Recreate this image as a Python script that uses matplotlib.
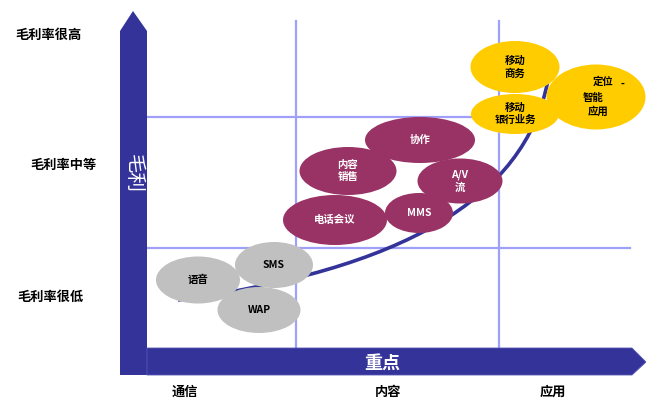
import matplotlib
matplotlib.use("Agg")
from matplotlib import pyplot as plt
from matplotlib.patches import Ellipse, Polygon, PathPatch
from matplotlib.path import Path

plt.rcParams['font.family'] = ['Noto Sans CJK SC', 'DejaVu Sans']

# margin levels on the left, focus areas along the bottom
level_labels = ['毛利率很高', '毛利率中等', '毛利率很低']
level_x = [48, 63, 50]
level_y = [35, 165, 297]

focus_labels = ['通信', '内容', '应用']
focus_x = [185, 388, 553]

# service bubbles: label, centre, size
gray_labels = ['语音', 'SMS', 'WAP']
gray_cx = [198, 274, 259]
gray_cy = [280, 265, 310]
gray_w = [84, 78, 83]
gray_h = [47, 46, 46]

red_labels = ['内容\n销售', '电话会议', 'MMS', '协作', 'A/V\n流']
red_cx = [348, 335, 419, 420, 460]
red_cy = [171, 220, 213, 140, 181]
red_w = [97, 104, 68, 110, 85]
red_h = [48, 50, 40, 46, 45]

yellow_labels = ['移动\n商务', '移动\n银行业务', '']
yellow_cx = [515, 515, 596]
yellow_cy = [67, 114, 97]
yellow_w = [89, 88, 99]
yellow_h = [52, 40, 65]

# the last yellow bubble has its lines set apart
loc_lines = ['定位', '智能', '应用', '-']
loc_x = [603, 593, 598, 622]
loc_y = [82, 98, 112, 84]

# trend curve (cubic bezier control points)
curve_x = [178, 400, 525, 548]
curve_y = [300, 270, 200, 80]

grid_v = [296, 499]
grid_h = [117, 248]

blue = '#333399'

fig = plt.figure(figsize=(6.46, 3.98), dpi=100)
ax = fig.add_axes([0, 0, 1, 1])
ax.set_xlim(0, 646)
ax.set_ylim(398, 0)
ax.axis('off')

for x in grid_v:
    ax.plot([x, x], [21, 348], color='#a0a0f8', lw=1.6, zorder=1)
for y in grid_h:
    ax.plot([147, 630], [y, y], color='#a0a0f8', lw=1.6, zorder=1)

# axes arrows
ax.add_patch(Polygon([(120, 375), (120, 31), (133, 11), (147, 31), (147, 375)],
                     closed=True, fc=blue, ec='none', zorder=2))
ax.add_patch(Polygon([(147, 348), (632, 348), (646, 362), (632, 375), (147, 375)],
                     closed=True, fc=blue, ec='#5858b8', lw=0.6, zorder=2))
ax.text(133, 174, '毛利', color='white', fontsize=14, rotation=-90,
        ha='center', va='center', zorder=3)
ax.text(382, 363, '重点', color='white', fontsize=13, fontweight='bold',
        ha='center', va='center', zorder=3)

verts = list(zip(curve_x, curve_y))
path = Path(verts, [Path.MOVETO, Path.CURVE4, Path.CURVE4, Path.CURVE4])
ax.add_patch(PathPatch(path, fc='none', ec=blue, lw=2.6, zorder=3))


def bubbles(labels, cx, cy, w, h, fc, tc):
    for lab, x, y, ww, hh in zip(labels, cx, cy, w, h):
        ax.add_patch(Ellipse((x, y), ww, hh, fc=fc, ec='none', zorder=4))
        ax.text(x, y, lab, color=tc, fontsize=7.5, fontweight='bold',
                ha='center', va='center', linespacing=1.3, zorder=5)


bubbles(gray_labels, gray_cx, gray_cy, gray_w, gray_h, '#c0c0c0', 'black')
bubbles(red_labels, red_cx, red_cy, red_w, red_h, '#993366', 'white')
bubbles(yellow_labels, yellow_cx, yellow_cy, yellow_w, yellow_h, '#ffcc00', 'black')
for lab, x, y in zip(loc_lines, loc_x, loc_y):
    ax.text(x, y, lab, fontsize=7.5, fontweight='bold', ha='center', va='center', zorder=5)

for lab, x, y in zip(level_labels, level_x, level_y):
    ax.text(x, y, lab, fontsize=9.5, fontweight='bold', ha='center', va='center')
for lab, x in zip(focus_labels, focus_x):
    ax.text(x, 392, lab, fontsize=9.5, fontweight='bold', ha='center', va='center')

fig.savefig('out.png', dpi=100)
